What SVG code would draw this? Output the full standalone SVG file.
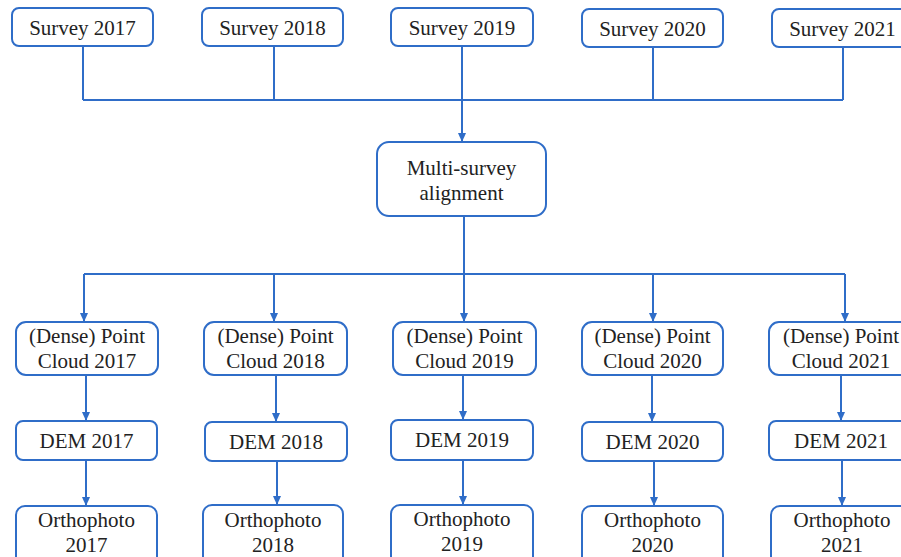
<svg xmlns="http://www.w3.org/2000/svg" width="901" height="557" viewBox="0 0 901 557">
<style>
.box{fill:#fff;stroke:#2F6DC8;stroke-width:2}
.t{font-size:21px;fill:#222;text-anchor:middle}
.c{fill:none;stroke:#2F6DC8;stroke-width:2}
</style>
<defs>
<marker id="arr" markerUnits="userSpaceOnUse" markerWidth="9" markerHeight="8" refX="8" refY="4" orient="auto" viewBox="0 0 9 8">
<path d="M0,0 L9,4 L0,8 Z" fill="#2F6DC8"/>
</marker>
</defs>
<rect width="901" height="557" fill="#fff"/>
<g id="connectors">
<path class="c" d="M83,46 V100 M274,46 V100 M653,47 V100 M843,47 V100 M83,100 H843"/>
<path class="c" d="M462,46 V141" marker-end="url(#arr)"/>
<path class="c" d="M464,216 V274 M84,274 H845"/>
<path class="c" d="M84,274 V321" marker-end="url(#arr)"/>
<path class="c" d="M274,274 V321" marker-end="url(#arr)"/>
<path class="c" d="M464,274 V321" marker-end="url(#arr)"/>
<path class="c" d="M653,274 V321" marker-end="url(#arr)"/>
<path class="c" d="M845,274 V321" marker-end="url(#arr)"/>
<path class="c" d="M86,375 V420" marker-end="url(#arr)"/>
<path class="c" d="M276,375 V421" marker-end="url(#arr)"/>
<path class="c" d="M463,375 V419" marker-end="url(#arr)"/>
<path class="c" d="M652,375 V421" marker-end="url(#arr)"/>
<path class="c" d="M841,375 V420" marker-end="url(#arr)"/>
<path class="c" d="M86,460 V505" marker-end="url(#arr)"/>
<path class="c" d="M277,461 V504" marker-end="url(#arr)"/>
<path class="c" d="M463,460 V504" marker-end="url(#arr)"/>
<path class="c" d="M654,461 V505" marker-end="url(#arr)"/>
<path class="c" d="M842,460 V505" marker-end="url(#arr)"/>
</g>
<g font-family="'Liberation Serif', 'Times New Roman', 'DejaVu Serif', serif">
<g id="survey2017"><rect class="box" x="12" y="8" width="141" height="38" rx="7"/><text class="t" x="82.5" y="35">Survey 2017</text></g>
<g id="survey2018"><rect class="box" x="202" y="8" width="141" height="38" rx="7"/><text class="t" x="272.5" y="35">Survey 2018</text></g>
<g id="survey2019"><rect class="box" x="391" y="8" width="142" height="38" rx="7"/><text class="t" x="462" y="35">Survey 2019</text></g>
<g id="survey2020"><rect class="box" x="582" y="9" width="141" height="38" rx="7"/><text class="t" x="652.5" y="36">Survey 2020</text></g>
<g id="survey2021"><rect class="box" x="772" y="9" width="141" height="38" rx="7"/><text class="t" x="842.5" y="36">Survey 2021</text></g>
<g id="alignment"><rect class="box" x="377" y="142" width="169" height="74" rx="12"/><text class="t" x="461.5" y="175">Multi-survey</text><text class="t" x="461.5" y="200">alignment</text></g>
<g id="pc2017"><rect class="box" x="16" y="322" width="142" height="53" rx="10"/><text class="t" x="87" y="343">(Dense) Point</text><text class="t" x="87" y="368">Cloud 2017</text></g>
<g id="pc2018"><rect class="box" x="204" y="322" width="143" height="53" rx="10"/><text class="t" x="275.5" y="343">(Dense) Point</text><text class="t" x="275.5" y="368">Cloud 2018</text></g>
<g id="pc2019"><rect class="box" x="393" y="322" width="143" height="53" rx="10"/><text class="t" x="464.5" y="343">(Dense) Point</text><text class="t" x="464.5" y="368">Cloud 2019</text></g>
<g id="pc2020"><rect class="box" x="582" y="322" width="141" height="53" rx="10"/><text class="t" x="652.5" y="343">(Dense) Point</text><text class="t" x="652.5" y="368">Cloud 2020</text></g>
<g id="pc2021"><rect class="box" x="769" y="322" width="144" height="53" rx="10"/><text class="t" x="841" y="343">(Dense) Point</text><text class="t" x="841" y="368">Cloud 2021</text></g>
<g id="dem2017"><rect class="box" x="16" y="421" width="141" height="39" rx="7"/><text class="t" x="86.5" y="448">DEM 2017</text></g>
<g id="dem2018"><rect class="box" x="205" y="422" width="142" height="39" rx="7"/><text class="t" x="276" y="449">DEM 2018</text></g>
<g id="dem2019"><rect class="box" x="391" y="420" width="142" height="40" rx="7"/><text class="t" x="462" y="447">DEM 2019</text></g>
<g id="dem2020"><rect class="box" x="582" y="422" width="141" height="39" rx="7"/><text class="t" x="652.5" y="449">DEM 2020</text></g>
<g id="dem2021"><rect class="box" x="769" y="421" width="144" height="39" rx="7"/><text class="t" x="841" y="448">DEM 2021</text></g>
<g id="ortho2017"><rect class="box" x="16" y="506" width="141" height="62" rx="9"/><text class="t" x="86.5" y="527">Orthophoto</text><text class="t" x="86.5" y="552">2017</text></g>
<g id="ortho2018"><rect class="box" x="203" y="505" width="140" height="62" rx="9"/><text class="t" x="273" y="527">Orthophoto</text><text class="t" x="273" y="552">2018</text></g>
<g id="ortho2019"><rect class="box" x="391" y="505" width="142" height="62" rx="9"/><text class="t" x="462" y="526">Orthophoto</text><text class="t" x="462" y="551">2019</text></g>
<g id="ortho2020"><rect class="box" x="582" y="506" width="141" height="62" rx="9"/><text class="t" x="652.5" y="527">Orthophoto</text><text class="t" x="652.5" y="552">2020</text></g>
<g id="ortho2021"><rect class="box" x="771" y="506" width="142" height="62" rx="9"/><text class="t" x="842" y="527">Orthophoto</text><text class="t" x="842" y="552">2021</text></g>
</g>
</svg>
